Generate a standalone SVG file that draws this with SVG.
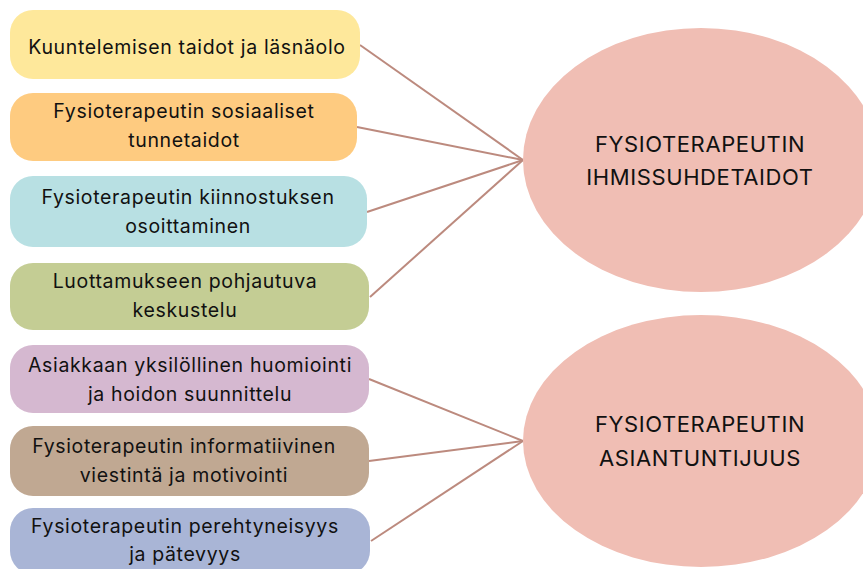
<svg xmlns="http://www.w3.org/2000/svg" width="863" height="569" viewBox="0 0 863 569">
<style>
.t{font-family:"Inter","Liberation Sans",sans-serif;font-size:19.5px;letter-spacing:0.65px;fill:#111;text-anchor:middle}
.h{font-family:"Inter","Liberation Sans",sans-serif;font-size:22px;letter-spacing:0.6px;fill:#111;text-anchor:middle}
.c{stroke:#BC8A7E;stroke-width:2;fill:none}
.e{fill:#F0BEB4}
</style>
<rect width="863" height="569" fill="#fff"/>
<g id="connectors">
<line class="c" x1="360" y1="45" x2="523" y2="160"/>
<line class="c" x1="357" y1="127" x2="523" y2="160"/>
<line class="c" x1="367" y1="212" x2="523" y2="160"/>
<line class="c" x1="370" y1="297" x2="523" y2="160"/>
<line class="c" x1="369" y1="379" x2="523" y2="441"/>
<line class="c" x1="369" y1="461" x2="523" y2="441"/>
<line class="c" x1="371" y1="541" x2="523" y2="441"/>
</g>
<g id="n1"><rect x="10" y="10" width="350" height="69" rx="23" fill="#FEE89B"/><text class="t" x="187" y="54">Kuuntelemisen taidot ja läsnäolo</text></g>
<g id="n2"><rect x="10" y="93" width="347" height="68" rx="23" fill="#FECB80"/><text class="t" x="184" y="118">Fysioterapeutin sosiaaliset</text><text class="t" x="184" y="147">tunnetaidot</text></g>
<g id="n3"><rect x="10" y="176" width="357" height="71" rx="23" fill="#B8E0E3"/><text class="t" x="188" y="204">Fysioterapeutin kiinnostuksen</text><text class="t" x="188" y="233">osoittaminen</text></g>
<g id="n4"><rect x="10" y="263" width="359" height="67" rx="23" fill="#C4CD94"/><text class="t" x="185" y="288">Luottamukseen pohjautuva</text><text class="t" x="185" y="317">keskustelu</text></g>
<g id="n5"><rect x="10" y="345" width="359" height="68" rx="23" fill="#D5B8D0"/><text class="t" x="190" y="372">Asiakkaan yksilöllinen huomiointi</text><text class="t" x="190" y="401">ja hoidon suunnittelu</text></g>
<g id="n6"><rect x="10" y="426" width="359" height="70" rx="23" fill="#C0A892"/><text class="t" x="184" y="453">Fysioterapeutin informatiivinen</text><text class="t" x="184" y="482">viestintä ja motivointi</text></g>
<g id="n7"><rect x="10" y="508" width="360" height="66" rx="23" fill="#A9B5D6"/><text class="t" x="185" y="533">Fysioterapeutin perehtyneisyys</text><text class="t" x="185" y="561">ja pätevyys</text></g>
<g id="e1"><ellipse class="e" cx="701" cy="160" rx="178" ry="132"/><text class="h" x="700" y="152">FYSIOTERAPEUTIN</text><text class="h" x="700" y="185">IHMISSUHDETAIDOT</text></g>
<g id="e2"><ellipse class="e" cx="701" cy="441" rx="178" ry="126"/><text class="h" x="700" y="432">FYSIOTERAPEUTIN</text><text class="h" x="700" y="466">ASIANTUNTIJUUS</text></g>
</svg>
